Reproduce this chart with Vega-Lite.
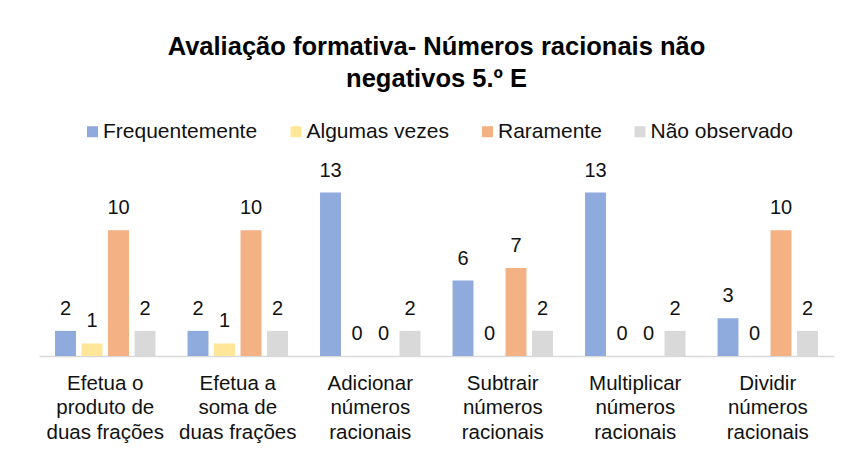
{
  "$schema": "https://vega.github.io/schema/vega-lite/v6.json",
  "autosize": {"type": "none"},
  "width": 795,
  "height": 176,
  "padding": {"left": 39, "top": 180, "right": 13, "bottom": 98},
  "background": "white",
  "config": {
    "view": {"stroke": null},
    "font": "Liberation Sans"
  },
  "title": {
    "text": ["Avaliação formativa- Números racionais não", "negativos 5.º E"],
    "fontSize": 25.5,
    "fontWeight": "bold",
    "color": "#000000",
    "font": "Liberation Sans",
    "anchor": "middle",
    "lineHeight": 32,
    "offset": 29
  },
  "data": {
    "values": [
      {"cat": "Efetua o|produto de|duas frações", "serie": "Frequentemente", "v": 2},
      {"cat": "Efetua o|produto de|duas frações", "serie": "Algumas vezes", "v": 1},
      {"cat": "Efetua o|produto de|duas frações", "serie": "Raramente", "v": 10},
      {"cat": "Efetua o|produto de|duas frações", "serie": "Não observado", "v": 2},
      {"cat": "Efetua a|soma de|duas frações", "serie": "Frequentemente", "v": 2},
      {"cat": "Efetua a|soma de|duas frações", "serie": "Algumas vezes", "v": 1},
      {"cat": "Efetua a|soma de|duas frações", "serie": "Raramente", "v": 10},
      {"cat": "Efetua a|soma de|duas frações", "serie": "Não observado", "v": 2},
      {"cat": "Adicionar|números|racionais", "serie": "Frequentemente", "v": 13},
      {"cat": "Adicionar|números|racionais", "serie": "Algumas vezes", "v": 0},
      {"cat": "Adicionar|números|racionais", "serie": "Raramente", "v": 0},
      {"cat": "Adicionar|números|racionais", "serie": "Não observado", "v": 2},
      {"cat": "Subtrair|números|racionais", "serie": "Frequentemente", "v": 6},
      {"cat": "Subtrair|números|racionais", "serie": "Algumas vezes", "v": 0},
      {"cat": "Subtrair|números|racionais", "serie": "Raramente", "v": 7},
      {"cat": "Subtrair|números|racionais", "serie": "Não observado", "v": 2},
      {"cat": "Multiplicar|números|racionais", "serie": "Frequentemente", "v": 13},
      {"cat": "Multiplicar|números|racionais", "serie": "Algumas vezes", "v": 0},
      {"cat": "Multiplicar|números|racionais", "serie": "Raramente", "v": 0},
      {"cat": "Multiplicar|números|racionais", "serie": "Não observado", "v": 2},
      {"cat": "Dividir|números|racionais", "serie": "Frequentemente", "v": 3},
      {"cat": "Dividir|números|racionais", "serie": "Algumas vezes", "v": 0},
      {"cat": "Dividir|números|racionais", "serie": "Raramente", "v": 10},
      {"cat": "Dividir|números|racionais", "serie": "Não observado", "v": 2}
    ]
  },
  "encoding": {
    "x": {
      "field": "cat",
      "type": "nominal",
      "sort": null,
      "scale": {"paddingInner": 0, "paddingOuter": 0},
      "axis": {
        "title": null,
        "labelAngle": 0,
        "labelExpr": "split(datum.label, '|')",
        "labelFontSize": 20.5,
        "labelLineHeight": 24.5,
        "labelColor": "#111111",
        "labelFont": "Liberation Sans",
        "labelPadding": 17,
        "ticks": false,
        "domainColor": "#d9d9d9",
        "domainWidth": 1.5,
        "labelLimit": 0
      }
    },
    "xOffset": {
      "field": "serie",
      "type": "nominal",
      "sort": ["Frequentemente", "Algumas vezes", "Raramente", "Não observado"],
      "scale": {"paddingInner": 0.21, "paddingOuter": 0.605}
    },
    "y": {
      "field": "v",
      "type": "quantitative",
      "scale": {"domain": [0, 14]},
      "axis": null
    }
  },
  "layer": [
    {
      "mark": {"type": "bar"},
      "encoding": {
        "color": {
          "field": "serie",
          "type": "nominal",
          "sort": ["Frequentemente", "Algumas vezes", "Raramente", "Não observado"],
          "scale": {
            "domain": ["Frequentemente", "Algumas vezes", "Raramente", "Não observado"],
            "range": ["#8faadc", "#ffe699", "#f4b183", "#d9d9d9"]
          },
          "legend": {
            "title": null,
            "orient": "none",
            "direction": "horizontal",
            "legendX": 43,
            "legendY": -59,
            "symbolType": "square",
            "symbolSize": 121,
            "symbolStrokeWidth": 0,
            "labelFontSize": 21,
            "labelFont": "Liberation Sans",
            "labelColor": "#111111",
            "labelOffset": 0,
            "columnPadding": 27.5,
            "labelLimit": 0
          }
        }
      }
    },
    {
      "mark": {"type": "text", "baseline": "bottom", "dy": -12, "fontSize": 20, "color": "#111111", "font": "Liberation Sans"},
      "encoding": {
        "text": {"field": "v", "type": "quantitative"}
      }
    }
  ]
}
